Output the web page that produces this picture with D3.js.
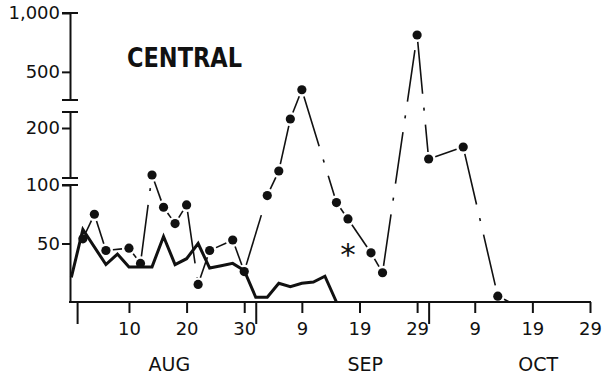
<!DOCTYPE html>
<html>
<head>
<meta charset="utf-8">
<script src="https://cdn.jsdelivr.net/npm/d3@7"></script>
<style>
  body { margin: 0; background: #fff; }
  svg { display: block; }
  text { font-family: "DejaVu Sans", sans-serif; fill: #111; }
</style>
</head>
<body>
<div id="chart"></div>
<script>
// ---- data ----
const title = "CENTRAL";

// thick solid line
const solidDates = ["Jul 31", "Aug 2", "Aug 6", "Aug 8", "Aug 10", "Aug 12", "Aug 14", "Aug 16", "Aug 18",
    "Aug 20", "Aug 22", "Aug 24", "Aug 26", "Aug 28", "Aug 30", "Sep 1", "Sep 3", "Sep 5", "Sep 7",
    "Sep 9", "Sep 11", "Sep 13", "Sep 15"];
const solidValues = [21, 62, 32, 41, 30, 30, 30, 56, 32, 37, 50, 29, 31, 33, 27, 4, 4, 16, 13, 16, 17, 22, 0];

// dash-dot line with dots (last two points have no dot)
const dottedDates = ["Aug 2", "Aug 4", "Aug 6", "Aug 10", "Aug 12", "Aug 14", "Aug 16", "Aug 18", "Aug 20",
    "Aug 22", "Aug 24", "Aug 28", "Aug 30", "Sep 3", "Sep 5", "Sep 7", "Sep 9", "Sep 15", "Sep 17",
    "Sep 21", "Sep 23", "Sep 29", "Oct 1", "Oct 7", "Oct 13", "Oct 15", "Oct 29"];
const dottedValues = [54, 75, 44, 46, 33, 106, 81, 67, 83, 15, 44, 53, 26, 91, 114, 218, 405, 85, 71,
    42, 25, 772, 138, 162, 5, 0, 0];

const asteriskDate = "Sep 17";
const asteriskValue = 46;

const xTickDates = ["Aug 10", "Aug 20", "Aug 30", "Sep 9", "Sep 19", "Sep 29", "Oct 9", "Oct 19", "Oct 29"];
const monthStarts = ["Aug 1", "Sep 1", "Oct 1"];
const monthNames = ["AUG", "SEP", "OCT"];
const monthLabelDates = ["Aug 17", "Sep 20", "Oct 20"];

const yTicksLow = [50, 100];
const yTicksMid = [200];
const yTicksHigh = [500, 1000];

// ---- setup ----
const width = 607, height = 378;
const parse = d3.utcParse("%b %d");

const svg = d3.select("#chart").append("svg")
    .attr("width", width)
    .attr("height", height);

const axisX = 70, axisY = 302;

const x = d3.scaleUtc()
    .domain([parse("Aug 1"), parse("Oct 29")])
    .range([77.1, 590]);

// broken y axis: three pieces
const yLow = d3.scaleLinear().domain([0, 100]).range([axisY, 185]);
const yMid = d3.scaleLinear().domain([100, 232]).range([178, 112]);
const yHigh = d3.scaleLog().domain([359, 1000]).range([100, 13]);

function y(v) {
    if (v <= 100) return yLow(v);
    if (v <= 232) return yMid(v);
    return yHigh(v);
}

// ---- y axis ----
const fmt = d3.format(",");
[[yLow, yTicksLow], [yMid, yTicksMid], [yHigh, yTicksHigh]].forEach(([sc, ticks]) => {
    const g = svg.append("g")
        .attr("transform", `translate(${axisX},0)`)
        .call(d3.axisLeft(sc).tickValues(ticks).tickSize(8).tickSizeOuter(0).tickPadding(2).tickFormat(fmt));
    g.select(".domain").attr("stroke", "#111").attr("stroke-width", 2);
    g.selectAll(".tick line").attr("stroke", "#111").attr("stroke-width", 2);
    g.selectAll(".tick text").style("font-size", "18px").attr("fill", "#111");
});

// break bars and cap on the y axis
const bars = [yHigh(1000), yHigh.range()[0], yMid.range()[1], yMid(100), yLow(100)];
svg.append("g").selectAll("line")
    .data(bars)
    .join("line")
    .attr("x1", axisX - 8)
    .attr("x2", axisX + 8)
    .attr("y1", d => d)
    .attr("y2", d => d)
    .attr("stroke", "#111")
    .attr("stroke-width", 2);

// ---- x axis ----
svg.append("line")
    .attr("x1", axisX - 1)
    .attr("x2", x(parse("Oct 29")) + 1)
    .attr("y1", axisY)
    .attr("y2", axisY)
    .attr("stroke", "#111")
    .attr("stroke-width", 2);

const gx = svg.append("g")
    .attr("transform", `translate(0,${axisY})`)
    .call(d3.axisBottom(x).tickValues(xTickDates.map(parse)).tickSize(11).tickPadding(9)
        .tickFormat(d3.utcFormat("%-d")));
gx.select(".domain").remove();
gx.selectAll(".tick line").attr("stroke", "#111").attr("stroke-width", 2);
gx.selectAll(".tick text").style("font-size", "18px").attr("fill", "#111");

const gm = svg.append("g")
    .attr("transform", `translate(0,${axisY})`)
    .call(d3.axisBottom(x).tickValues(monthStarts.map(parse)).tickSize(22).tickFormat(""));
gm.select(".domain").remove();
gm.selectAll(".tick line").attr("stroke", "#111").attr("stroke-width", 2);

svg.append("g").selectAll("text")
    .data(monthNames)
    .join("text")
    .attr("x", (d, i) => x(parse(monthLabelDates[i])))
    .attr("y", 371)
    .attr("text-anchor", "middle")
    .style("font-size", "19px")
    .text(d => d);

// ---- title ----
svg.append("text")
    .attr("x", 127)
    .attr("y", 67)
    .attr("textLength", 115)
    .attr("lengthAdjust", "spacingAndGlyphs")
    .style("font-size", "27px")
    .style("font-weight", "bold")
    .text(title);

// ---- solid series ----
const solid = solidDates.map((d, i) => ({date: parse(d), value: solidValues[i]}));
svg.append("path")
    .datum(solid)
    .attr("fill", "none")
    .attr("stroke", "#111")
    .attr("stroke-width", 3)
    .attr("stroke-linejoin", "miter")
    .attr("d", d3.line().x(d => x(d.date)).y(d => y(d.value)));

// ---- dash-dot series: line pieces trimmed around the dots ----
const dotted = dottedDates.map((d, i) => ({date: parse(d), value: dottedValues[i], marked: dottedValues[i] > 0}));
const pieces = [];
for (let i = 0; i < dotted.length - 1; i++) {
    const a = dotted[i], b = dotted[i + 1];
    let x1 = x(a.date), y1 = y(a.value), x2 = x(b.date), y2 = y(b.value);
    const len = Math.hypot(x2 - x1, y2 - y1);
    const ux = (x2 - x1) / len, uy = (y2 - y1) / len;
    const t1 = a.marked ? 7 : 0, t2 = b.marked ? 7 : 0;
    pieces.push({x1: x1 + ux * t1, y1: y1 + uy * t1, x2: x2 - ux * t2, y2: y2 - uy * t2});
}
svg.append("g").selectAll("line")
    .data(pieces.slice(0, pieces.length - 1))
    .join("line")
    .attr("x1", d => d.x1).attr("y1", d => d.y1)
    .attr("x2", d => d.x2).attr("y2", d => d.y2)
    .attr("stroke", "#111")
    .attr("stroke-width", 1.6)
    .attr("stroke-dasharray", "52,14,3,14");

svg.append("g").selectAll("circle")
    .data(dotted.filter(d => d.marked))
    .join("circle")
    .attr("cx", d => x(d.date))
    .attr("cy", d => y(d.value))
    .attr("r", 4.6)
    .attr("fill", "#111");

// asterisk marker
svg.append("text")
    .attr("x", x(parse(asteriskDate)))
    .attr("y", y(asteriskValue) + 17)
    .attr("text-anchor", "middle")
    .style("font-size", "31px")
    .text("*");
</script>
</body>
</html>
